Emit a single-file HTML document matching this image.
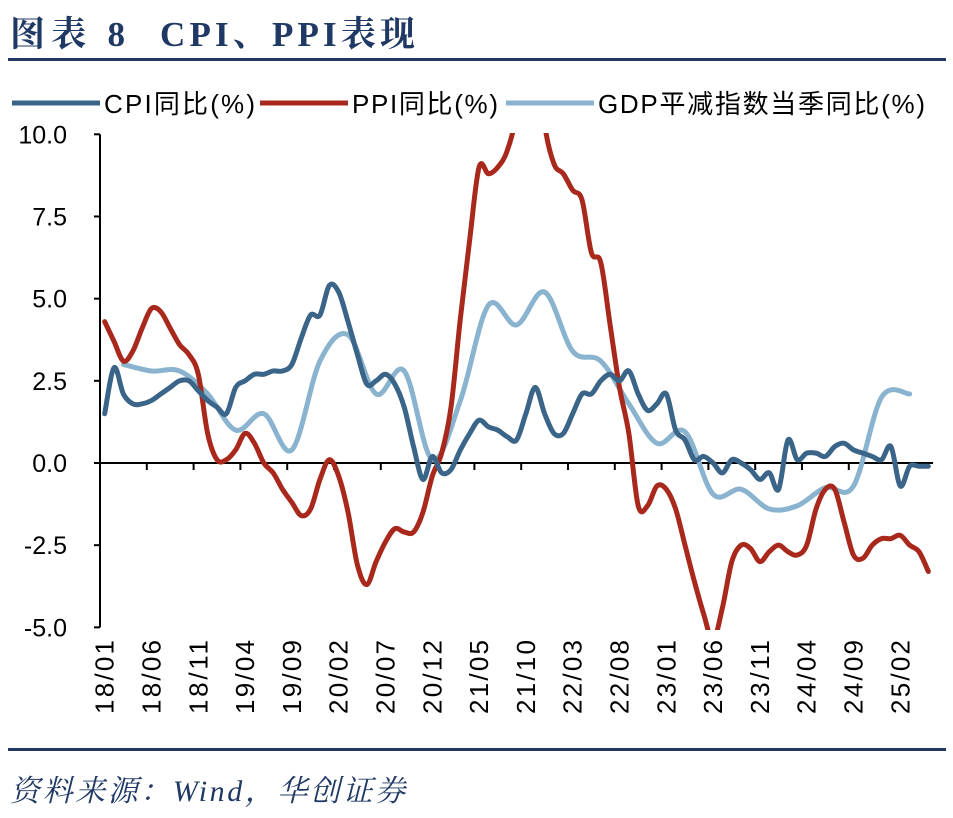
<!DOCTYPE html>
<html><head><meta charset="utf-8"><style>
body{margin:0;background:#fff;width:953px;height:813px;overflow:hidden;font-family:"Liberation Sans","Noto Sans CJK SC",sans-serif}
</style></head><body>
<svg width="953" height="813" xmlns="http://www.w3.org/2000/svg">
<g font-family="'Liberation Serif','Noto Serif CJK SC',serif" font-weight="bold" font-size="35" fill="#1F3864">
<text x="10" y="46" textLength="115" lengthAdjust="spacing">图表 8</text>
<text x="160" y="46" textLength="255" lengthAdjust="spacing">CPI、PPI表现</text>
</g>
<rect x="8" y="58" width="938" height="3" fill="#1F3864"/>
<rect x="8" y="748" width="938" height="3" fill="#1F3864"/>
<text x="10" y="801" font-family="'Liberation Serif','Noto Serif CJK SC',serif" font-style="italic" font-size="30" fill="#1F3864" textLength="395" lengthAdjust="spacing">资料来源：Wind，华创证券</text>
<g id="legend" font-size="26" fill="#000">
<g><line x1="12" y1="103" x2="100" y2="103" stroke="#3B6489" stroke-width="5"/><text x="104" y="113" textLength="151" lengthAdjust="spacing">CPI同比(%)</text></g>
<g><line x1="260" y1="103" x2="348" y2="103" stroke="#A8291C" stroke-width="5"/><text x="352" y="113" textLength="146" lengthAdjust="spacing">PPI同比(%)</text></g>
<g><line x1="506" y1="103" x2="594" y2="103" stroke="#89B3CE" stroke-width="5"/><text x="598" y="113" textLength="327" lengthAdjust="spacing">GDP平减指数当季同比(%)</text></g>
</g>
<g id="axes"></g>
<g id="series" clip-path="url(#clip)"></g>
<defs><clipPath id="clip"><rect x="100" y="133" width="840" height="497"/></clipPath></defs>
</svg>
<script>
const cpi=[1.5,2.9,2.1,1.8,1.8,1.9,2.1,2.3,2.5,2.5,2.2,1.9,
1.7,1.5,2.3,2.5,2.7,2.7,2.8,2.8,3.0,3.8,4.5,4.5,
5.4,5.2,4.3,3.3,2.4,2.5,2.7,2.4,1.7,0.5,-0.5,0.2,
-0.3,-0.2,0.4,0.9,1.3,1.1,1.0,0.8,0.7,1.5,2.3,1.5,
0.9,0.9,1.5,2.1,2.1,2.5,2.7,2.5,2.8,2.1,1.6,1.8,
2.1,1.0,0.7,0.1,0.2,0.0,-0.3,0.1,0.0,-0.2,-0.5,-0.3,
-0.8,0.7,0.1,0.3,0.3,0.2,0.5,0.6,0.4,0.3,0.2,0.1,
0.5,-0.7,-0.1,-0.1,-0.1];
const ppi=[4.3,3.7,3.1,3.4,4.1,4.7,4.6,4.1,3.6,3.3,2.7,0.9,
0.1,0.1,0.4,0.9,0.6,0.0,-0.3,-0.8,-1.2,-1.6,-1.4,-0.5,
0.1,-0.4,-1.5,-3.1,-3.7,-3.0,-2.4,-2.0,-2.1,-2.1,-1.5,-0.4,
0.3,1.7,4.4,6.8,9.0,8.8,9.0,9.5,10.7,13.5,12.9,10.3,
9.1,8.8,8.3,8.0,6.4,6.1,4.2,2.3,0.9,-1.3,-1.3,-0.7,
-0.8,-1.4,-2.5,-3.6,-4.6,-5.4,-4.4,-3.0,-2.5,-2.6,-3.0,-2.7,
-2.5,-2.7,-2.8,-2.5,-1.4,-0.8,-0.8,-1.8,-2.8,-2.9,-2.5,-2.3,
-2.3,-2.2,-2.5,-2.7,-3.3];
const gdpMonths=[2,5,8,11,14,17,20,23,26,29,32,35,38,41,44,47,50,53,56,59,62,65,68,71,74,77,80,83,86];
const gdp=[3.0,2.8,2.8,2.1,1.0,1.5,0.4,3.1,3.9,2.1,2.8,0.1,1.9,4.8,4.2,5.2,3.4,3.1,1.8,0.6,0.95,-0.95,-0.8,-1.4,-1.3,-0.75,-0.7,2.0,2.1];
const xLabels=["18/01","18/06","18/11","19/04","19/09","20/02","20/07","20/12","21/05","21/10","22/03","22/08","23/01","23/06","23/11","24/04","24/09","25/02"];
const yTicks=[-5,-2.5,0,2.5,5,7.5,10];
const NS="http://www.w3.org/2000/svg";
const X0=100,MW=9.36,NM=89;
const x=i=>X0+MW*(i+0.5);
const y=v=>463-v*32.87;
const ax=document.getElementById('axes');
function mk(t,a,p){const e=document.createElementNS(NS,t);for(const k in a)e.setAttribute(k,a[k]);p.appendChild(e);return e;}
let e=mk('line',{x1:X0,y1:y(10),x2:X0,y2:y(-5),stroke:'#000','stroke-width':2},ax);


yTicks.forEach(v=>{
 mk('line',{x1:X0-6,y1:y(v),x2:X0,y2:y(v),stroke:'#000','stroke-width':2},ax);
 const t=mk('text',{x:67,y:y(v)+9,'text-anchor':'end','font-size':25},ax);
 t.textContent=v.toFixed(1);
 
 
});
e=mk('line',{x1:X0,y1:y(0),x2:X0+MW*NM,y2:y(0),stroke:'#000','stroke-width':2},ax);


for(let k=5;k<NM;k+=5)mk('line',{x1:X0+MW*k,y1:y(0),x2:X0+MW*k,y2:y(0)+7,stroke:'#000','stroke-width':2},ax);
xLabels.forEach((l,k)=>{
 const px=x(k*5);
 const t=mk('text',{x:0,y:0,'text-anchor':'end','font-size':26,textLength:74,lengthAdjust:'spacing',transform:`translate(${px+9},640) rotate(-90)`},ax);
 t.textContent=l;
 
 
});
function smooth(pts){let d=`M${pts[0][0]},${pts[0][1]}`;for(let i=0;i<pts.length-1;i++){const p0=pts[i-1]||pts[i],p1=pts[i],p2=pts[i+1],p3=pts[i+2]||p2;const c1=[p1[0]+(p2[0]-p0[0])/6,p1[1]+(p2[1]-p0[1])/6],c2=[p2[0]-(p3[0]-p1[0])/6,p2[1]-(p3[1]-p1[1])/6];d+=` C${c1[0]},${c1[1]} ${c2[0]},${c2[1]} ${p2[0]},${p2[1]}`;}return d;}
const sg=document.getElementById('series');
let p=mk('path',{d:smooth(gdp.map((v,i)=>[x(gdpMonths[i]),y(v)])),fill:'none',stroke:'#89B3CE','stroke-width':5,'stroke-linecap':'round'},sg);


p=mk('path',{d:smooth(ppi.map((v,i)=>[x(i),y(v)])),fill:'none',stroke:'#A8291C','stroke-width':5,'stroke-linecap':'round'},sg);


p=mk('path',{d:smooth(cpi.map((v,i)=>[x(i),y(v)])),fill:'none',stroke:'#3B6489','stroke-width':5,'stroke-linecap':'round'},sg);


</script>
</body></html>
